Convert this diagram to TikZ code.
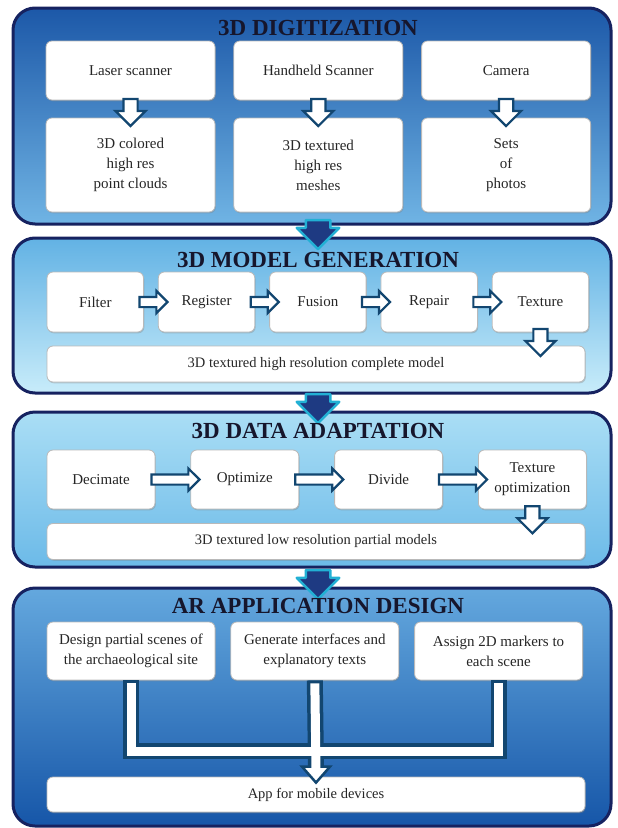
\documentclass[tikz,border=0pt]{standalone}
\usepackage{fontspec}
\setmainfont{Liberation Serif}
\usetikzlibrary{arrows.meta,calc,positioning,shapes.arrows,shadows}

\definecolor{rim}{RGB}{22,34,96}
\definecolor{arr}{RGB}{18,70,112}
\definecolor{bigf}{RGB}{30,58,130}
\definecolor{bigd}{RGB}{34,176,212}
\definecolor{ink}{RGB}{22,22,44}

\begin{document}
\begin{tikzpicture}[x=1pt,y=-1pt,
    pnl/.style={draw=rim,line width=3pt,rounded corners=22pt,
                minimum width=598pt,inner sep=0pt},
    ttl/.style={font=\bfseries\fontsize{23}{26}\selectfont,text=ink},
    bx/.style={draw=gray!55,fill=white,rounded corners=6pt,line width=.8pt,
               align=center,inner sep=2pt,text=black!85,
               font=\fontsize{15}{20}\selectfont,
               drop shadow={shadow xshift=.8pt,shadow yshift=-1.3pt,opacity=.35}},
    wide/.style={bx,font=\fontsize{14.5}{16}\selectfont},
    dn/.style={single arrow,draw=arr,fill=white,line width=2.2pt,rotate=-90,
               inner xsep=0pt,inner ysep=6pt,single arrow head extend=8pt,
               minimum width=0pt,minimum height=27pt,single arrow head indent=0pt},
    rt/.style={single arrow,draw=arr,fill=white,line width=2.2pt,
               inner xsep=0pt,inner ysep=4pt,single arrow head extend=6pt,
               minimum width=0pt,minimum height=28pt},
    big/.style={single arrow,draw=bigd,fill=bigf,line width=2.5pt,rotate=-90,
                line join=round,inner xsep=0pt,inner ysep=11pt,
                single arrow head extend=9pt,minimum width=0pt,minimum height=29pt},
    pipeout/.style={draw=arr,line width=16pt,line join=miter},
    pipein/.style={draw=white,line width=9pt,line join=miter}]
  \useasboundingbox (0,0) rectangle (618,828);

  % panels
  \node[pnl,minimum height=216pt,top color={rgb,255:red,28;green,88;blue,168},
        bottom color={rgb,255:red,112;green,180;blue,228}] (dig) at (312,116) {};
  \node[pnl,minimum height=155pt,top color={rgb,255:red,98;green,178;blue,228},
        bottom color={rgb,255:red,200;green,236;blue,250}] (gen) at (312,315.5) {};
  \node[pnl,minimum height=155pt,top color={rgb,255:red,170;green,222;blue,245},
        bottom color={rgb,255:red,108;green,186;blue,232}] (ada) at (312,489.5) {};
  \node[pnl,minimum height=238pt,top color={rgb,255:red,100;green,168;blue,222},
        bottom color={rgb,255:red,22;green,86;blue,168}] (des) at (312,707) {};

  \node[big] (b1) at ($(gen.north)+(6,-8)$) {};
  \node[big] (b2) at ($(ada.north)+(6,-8)$) {};
  \node[big] (b3) at ($(des.north)+(6,-8)$) {};

  % 3D digitization
  \node[ttl] (t1) at (318,28) {3D DIGITIZATION};
  \node[bx,minimum width=169pt,minimum height=59pt] (ls) at (130.5,70.5) {Laser scanner};
  \node[bx,minimum width=169pt,minimum height=59pt,right=18pt of ls] (hs) {Handheld Scanner};
  \node[bx,minimum width=169pt,minimum height=59pt,right=18pt of hs] (cam) {Camera};
  \node[bx,minimum width=169pt,minimum height=94pt] (pc) at (130.5,165) {3D colored\\high res\\point clouds};
  \node[bx,minimum width=169pt,minimum height=94pt,right=18pt of pc] (ms) {3D textured\\high res\\meshes};
  \node[bx,minimum width=169pt,minimum height=94pt,right=18pt of ms] (ph) {Sets\\of\\photos};
  \node[dn] (a1) at ($(ls.south)!.5!(pc.north)$) {};
  \node[dn] (a2) at ($(hs.south)!.5!(ms.north)$) {};
  \node[dn] (a3) at ($(cam.south)!.5!(ph.north)$) {};

  % 3D model generation
  \node[ttl] (t2) at (318,259.5) {3D MODEL GENERATION};
  \node[bx,minimum width=96.5pt,minimum height=60pt] (fi) at (95.25,302) {Filter};
  \node[bx,minimum width=96.5pt,minimum height=60pt,right=14pt of fi] (re) {Register};
  \node[bx,minimum width=96.5pt,minimum height=60pt,right=14pt of re] (fu) {Fusion};
  \node[bx,minimum width=96.5pt,minimum height=60pt,right=14pt of fu] (rp) {Repair};
  \node[bx,minimum width=96.5pt,minimum height=60pt,right=14pt of rp] (tx) {Texture};
  \node[wide,minimum width=538pt,minimum height=36pt] (cm) at (316,364)
    {3D textured high resolution complete model};
  \node[rt] at ($(fi.east)!.5!(re.west)$) (r1) {};
  \node[rt] at ($(re.east)!.5!(fu.west)$) (r2) {};
  \node[rt] at ($(fu.east)!.5!(rp.west)$) (r3) {};
  \node[rt] at ($(rp.east)!.5!(tx.west)$) (r4) {};
  \node[dn] (a4) at ($(tx.south)!.5!(tx.south |- cm.north)$) {};

  % 3D data adaptation
  \node[ttl] (t3) at (318,431) {3D DATA ADAPTATION};
  \node[bx,minimum width=108pt,minimum height=59pt] (de) at (101,479.5) {Decimate};
  \node[bx,minimum width=108pt,minimum height=59pt,right=35pt of de] (op) {Optimize};
  \node[bx,minimum width=108pt,minimum height=59pt,right=35pt of op] (dv) {Divide};
  \node[bx,minimum width=108pt,minimum height=59pt,right=35pt of dv] (to) {Texture\\optimization};
  \node[wide,minimum width=538pt,minimum height=36pt] (pm) at (316,541.5)
    {3D textured low resolution partial models};
  \node[rt,minimum height=48pt] at ($(de.east)!.5!(op.west)$) (r5) {};
  \node[rt,minimum height=48pt] at ($(op.east)!.5!(dv.west)$) (r6) {};
  \node[rt,minimum height=48pt] at ($(dv.east)!.5!(to.west)$) (r7) {};
  \node[dn] (a5) at ($(to.south)!.5!(to.south |- pm.north)$) {};

  % AR application design
  \node[ttl] (t4) at (318,606) {AR APPLICATION DESIGN};
  \node[bx,minimum width=168pt,minimum height=58pt] (sc) at (131,651)
    {Design partial scenes of\\the archaeological site};
  \node[bx,minimum width=168pt,minimum height=58pt,right=15pt of sc] (gi)
    {Generate interfaces and\\explanatory texts};
  \node[bx,minimum width=168pt,minimum height=58pt,right=15pt of gi] (mk)
    {Assign 2D markers to\\each scene};
  \node[wide,minimum width=538pt,minimum height=35pt] (mob) at (316,794.5)
    {App for mobile devices};
  \coordinate (jn) at ($(gi.south)+(0,71)$);
  \coordinate (tip) at ($(mob.north)+(0,6)$);
  \draw[pipeout] (sc.south) |- (jn) -| (mk.south);
  \draw[pipeout] (gi.south) -- ($(tip)+(0,-16)$);
  \filldraw[draw=arr,fill=white,line width=2.5pt,line join=miter]
    ($(tip)+(-14,-16)$) -- ($(tip)+(14,-16)$) -- (tip) -- cycle;
  \draw[pipein,shorten <=3pt,shorten >=3pt] (sc.south) |- (jn) -| (mk.south);
  \draw[pipein,shorten <=3pt] (gi.south) -- ($(tip)+(0,-13)$);
\end{tikzpicture}
\end{document}
